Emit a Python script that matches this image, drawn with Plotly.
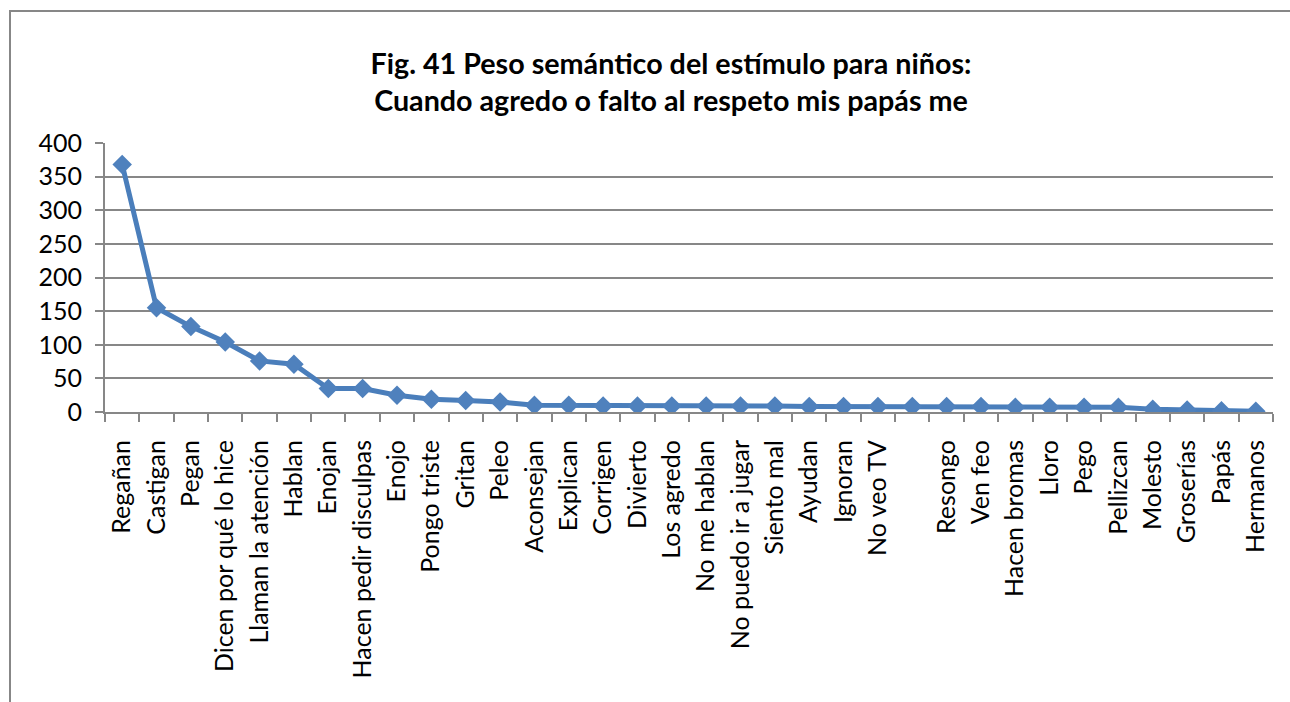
import plotly.graph_objects as go

# Respuestas al estímulo y su peso semántico
categorias = [
    "Regañan", "Castigan", "Pegan", "Dicen por qué lo hice", "Llaman la atención",
    "Hablan", "Enojan", "Hacen pedir disculpas", "Enojo", "Pongo triste",
    "Gritan", "Peleo", "Aconsejan", "Explican", "Corrigen", "Divierto",
    "Los agredo", "No me hablan", "No puedo ir a jugar", "Siento mal",
    "Ayudan", "Ignoran", "No veo TV", " ", "Resongo", "Ven feo",
    "Hacen bromas", "Lloro", "Pego", "Pellizcan", "Molesto", "Groserías",
    "Papás", "Hermanos",
]
peso = [
    368, 155, 127, 104, 76,
    71, 35, 35, 25, 19,
    17, 15, 10, 10, 9, 9,
    9, 9, 9, 9,
    8, 8, 8, 8, 8, 8,
    7, 7, 7, 7, 4, 3,
    2, 1,
]
y_ticks = [0, 50, 100, 150, 200, 250, 300, 350, 400]

titulo = ("<b>Fig. 41 Peso semántico del estímulo para niños:<br>"
          "Cuando agredo o falto al respeto mis papás me</b>")

AZUL = "#4A7EBB"
GRIS = "#878787"
FUENTE = "Lato, 'Liberation Sans', sans-serif"

fig = go.Figure(
    go.Scatter(
        x=categorias,
        y=peso,
        mode="lines+markers",
        line=dict(color=AZUL, width=5),
        marker=dict(symbol="diamond", size=15, color="#4F81BD",
                    line=dict(width=0)),
        showlegend=False,
        hoverinfo="x+y",
    )
)

W, H = 1290, 702
ML, MR, MT, MB = 105, 17, 143, 290
pw, ph = W - ML - MR, H - MT - MB

fig.update_layout(
    width=W,
    height=H,
    margin=dict(l=ML, r=MR, t=MT, b=MB, pad=0),
    paper_bgcolor="white",
    plot_bgcolor="white",
    font=dict(family=FUENTE, color="black", size=25),
    title=dict(
        text=titulo,
        x=671 / W,
        xanchor="center",
        xref="container",
        y=1 - 74 / H,
        yanchor="middle",
        yref="container",
        font=dict(family=FUENTE, size=28.7, color="black"),
    ),
    xaxis=dict(
        type="category",
        tickangle=-90,
        tickson="boundaries",
        ticks="outside",
        ticklen=8,
        tickwidth=2,
        tickcolor=GRIS,
        showline=True,
        linecolor=GRIS,
        linewidth=2,
        showgrid=False,
        ticklabelstandoff=16,
        tickfont=dict(family=FUENTE, size=25, color="black"),
        range=[-0.5, len(categorias) - 0.5],
        fixedrange=True,
    ),
    yaxis=dict(
        range=[0, 400],
        tickvals=y_ticks,
        ticks="outside",
        ticklen=8,
        tickwidth=2,
        tickcolor=GRIS,
        showline=True,
        linecolor=GRIS,
        linewidth=2,
        showgrid=True,
        gridcolor=GRIS,
        gridwidth=2,
        zeroline=False,
        ticklabelstandoff=8,
        tickfont=dict(family=FUENTE, size=25, color="black"),
        fixedrange=True,
    ),
    shapes=[
        dict(
            type="rect",
            xref="paper",
            yref="paper",
            x0=(10 - ML) / pw,
            x1=(1300 - ML) / pw,
            y0=(H - MB - 720) / ph,
            y1=(H - MB - 11) / ph,
            line=dict(color=GRIS, width=2),
            fillcolor="rgba(0,0,0,0)",
            layer="below",
        )
    ],
)

fig.write_html("out.html")
